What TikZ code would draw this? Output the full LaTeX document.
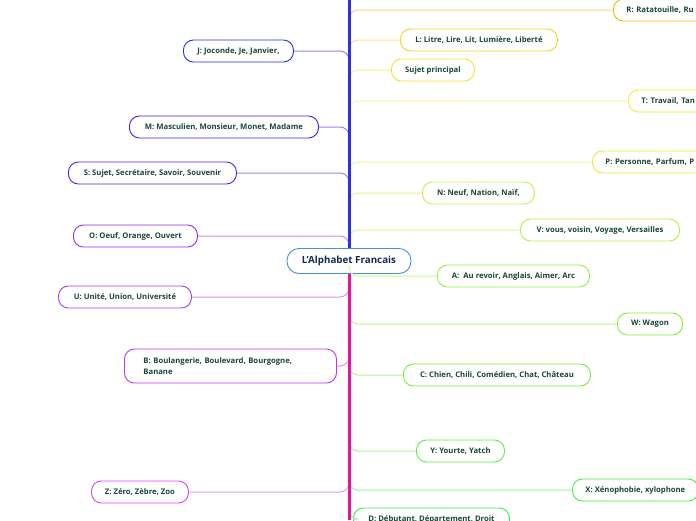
\documentclass[tikz,border=0pt]{standalone}
\usepackage{fontspec}
\setmainfont{Open Sans}
\usetikzlibrary{calc}

\definecolor{inktext}{HTML}{1B4636}
\definecolor{rootink}{HTML}{142A55}
\definecolor{rootline}{HTML}{4A90D9}
\definecolor{spineup}{HTML}{2A30EC}
\definecolor{spinedown}{HTML}{E8139C}
% right side, yellow to green
\definecolor{cR}{HTML}{F7B500}
\definecolor{cL}{HTML}{F8CE30}
\definecolor{cQ}{HTML}{F5E22A}
\definecolor{cT}{HTML}{F0EE30}
\definecolor{cP}{HTML}{DDF030}
\definecolor{cN}{HTML}{C8F040}
\definecolor{cV}{HTML}{B5F040}
\definecolor{cA}{HTML}{98EE40}
\definecolor{cW}{HTML}{84EE36}
\definecolor{cC}{HTML}{70EE3C}
\definecolor{cY}{HTML}{58EE40}
\definecolor{cX}{HTML}{44EE44}
\definecolor{cD}{HTML}{34EE50}
% left side, blue to magenta
\definecolor{cJ}{HTML}{2A2EE4}
\definecolor{cM}{HTML}{3A22EA}
\definecolor{cS}{HTML}{4C22F0}
\definecolor{cO}{HTML}{8A30F0}
\definecolor{cU}{HTML}{A040F0}
\definecolor{cB}{HTML}{C232F0}
\definecolor{cZ}{HTML}{E040F0}

\begin{document}
\begin{tikzpicture}[x=1pt,y=-1pt,
   leaf/.style={draw,fill=white,anchor=west,rounded corners=10pt,line width=0.9pt,
      minimum height=22pt,inner xsep=13pt,text=inktext,
      font=\bfseries\fontsize{7.7}{11}\selectfont},
   twig/.style={rounded corners=9pt,line width=1pt},
   root/.style={draw=rootline,fill=white,rounded corners=12pt,line width=0.9pt,
      minimum width=124pt,minimum height=25pt,text=rootink,
      font=\bfseries\fontsize{9.8}{11}\selectfont}]
  \clip (0,0) rectangle (696,520);
  % spine x = 349, top and bottom ends
  \coordinate (sp) at (349,0);
  \coordinate (spend) at (349,520);

  \node[root] (ctr) at (349,261) {L'Alphabet Francais};

  % ---- right side, above the root ----
  \node[leaf,draw=cR,text width=150pt,align=left] (R) at (613,10) {R: Ratatouille, Ru};
  \draw[twig,cR!55!white] (R.west) -| ($(R.west -| sp)+(0,11)$);

  \node[leaf,draw=cL,minimum width=157pt] (L) at (400,40) {L: Litre, Lire, Lit, Lumière, Liberté};
  \draw[twig,cL!55!white] (L.west) -| ($(L.west -| sp)+(0,11)$);

  \node[leaf,draw=cQ,minimum width=83pt] (Q) at (391,70) {Sujet principal};
  \draw[twig,cQ!55!white] (Q.west) -| ($(Q.west -| sp)+(0,11)$);

  \node[leaf,draw=cT,text width=150pt,align=left] (T) at (628,101) {T: Travail, Tan};
  \draw[twig,cT!55!white] (T.west) -| ($(T.west -| sp)+(0,11)$);

  \node[leaf,draw=cP,text width=150pt,align=left] (P) at (592,162) {P: Personne, Parfum, P};
  \draw[twig,cP!55!white] (P.west) -| ($(P.west -| sp)+(0,11)$);

  \node[leaf,draw=cN,minimum width=112pt] (N) at (422,193) {N: Neuf, Nation, Naïf,};
  \draw[twig,cN!55!white] (N.west) -| ($(N.west -| sp)+(0,11)$);

  \node[leaf,draw=cV,minimum width=159pt] (V) at (520,230) {V: vous, voisin, Voyage, Versailles};
  \draw[twig,cV!55!white] (V.west) -| ($(V.west -| sp)+(0,11)$);

  % ---- right side, below the root ----
  \node[leaf,draw=cA,minimum width=152pt] (A) at (437,276) {A:\ \ Au revoir, Anglais, Aimer, Arc};
  \draw[twig,cA!55!white] (A.west) -| ($(A.west -| sp)+(0,-11)$);

  \node[leaf,draw=cW,minimum width=65pt] (W) at (617,324) {W: Wagon};
  \draw[twig,cW!55!white] (W.west) -| ($(W.west -| sp)+(0,-11)$);

  \node[leaf,draw=cC,minimum width=187pt] (C) at (403,375) {C: Chien, Chili, Comédien, Chat, Château};
  \draw[twig,cC!55!white] (C.west) -| ($(C.west -| sp)+(0,-11)$);

  \node[leaf,draw=cY,minimum width=88pt] (Y) at (416,451) {Y: Yourte, Yatch};
  \draw[twig,cY!55!white] (Y.west) -| ($(Y.west -| sp)+(0,-11)$);

  \node[leaf,draw=cX,minimum width=122pt] (X) at (572,490) {X: Xénophobie, xylophone};
  \draw[twig,cX!55!white] (X.west) -| ($(X.west -| sp)+(0,-11)$);

  \node[leaf,draw=cD,minimum width=156pt] (D) at (353,519) {D: Débutant, Département, Droit};
  \draw[twig,cD!55!white] (D.west) -| ($(D.west -| sp)+(0,-11)$);

  % ---- left side ----
  \node[leaf,draw=cJ,minimum width=110pt] (J) at (183,51) {J: Joconde, Je, Janvier,};
  \draw[twig,cJ!55!white] (J.east) -| ($(J.east -| sp)+(0,12)$);

  \node[leaf,draw=cM,minimum width=189pt] (M) at (129,127) {M: Masculien, Monsieur, Monet, Madame};
  \draw[twig,cM!55!white] (M.east) -| ($(M.east -| sp)+(0,12)$);

  \node[leaf,draw=cS,minimum width=168pt] (S) at (68,173) {S: Sujet, Secrétaire, Savoir, Souvenir};
  \draw[twig,cS!55!white] (S.east) -| ($(S.east -| sp)+(0,12)$);

  \node[leaf,draw=cO,minimum width=124pt] (O) at (73,236) {O: Oeuf, Orange, Ouvert};
  \draw[twig,cO!55!white] (O.east) -| ($(O.east -| sp)+(0,12)$);

  \node[leaf,draw=cU,minimum width=133pt] (U) at (58,297) {U: Unité, Union, Université};
  \draw[twig,cU!55!white] (U.east) -| ($(U.east -| sp)+(0,-10)$);

  \node[leaf,draw=cB,minimum height=34pt,inner xsep=19pt,text width=174pt,align=left]
     (B) at (124,366) {B: Boulangerie, Boulevard, Bourgogne,\\Banane};
  \draw[twig,cB!55!white] (B.east) -| ($(B.east -| sp)+(0,-10)$);

  \node[leaf,draw=cZ,minimum width=97pt] (Z) at (91,492) {Z: Zéro, Zèbre, Zoo};
  \draw[twig,cZ!55!white] (Z.east) -| ($(Z.east -| sp)+(0,-12)$);

  % ---- spine ----
  \draw[line width=3pt,spineup] (ctr.north) -- (sp);
  \draw[line width=3pt,spinedown] (ctr.south) -- (spend);
\end{tikzpicture}
\end{document}
